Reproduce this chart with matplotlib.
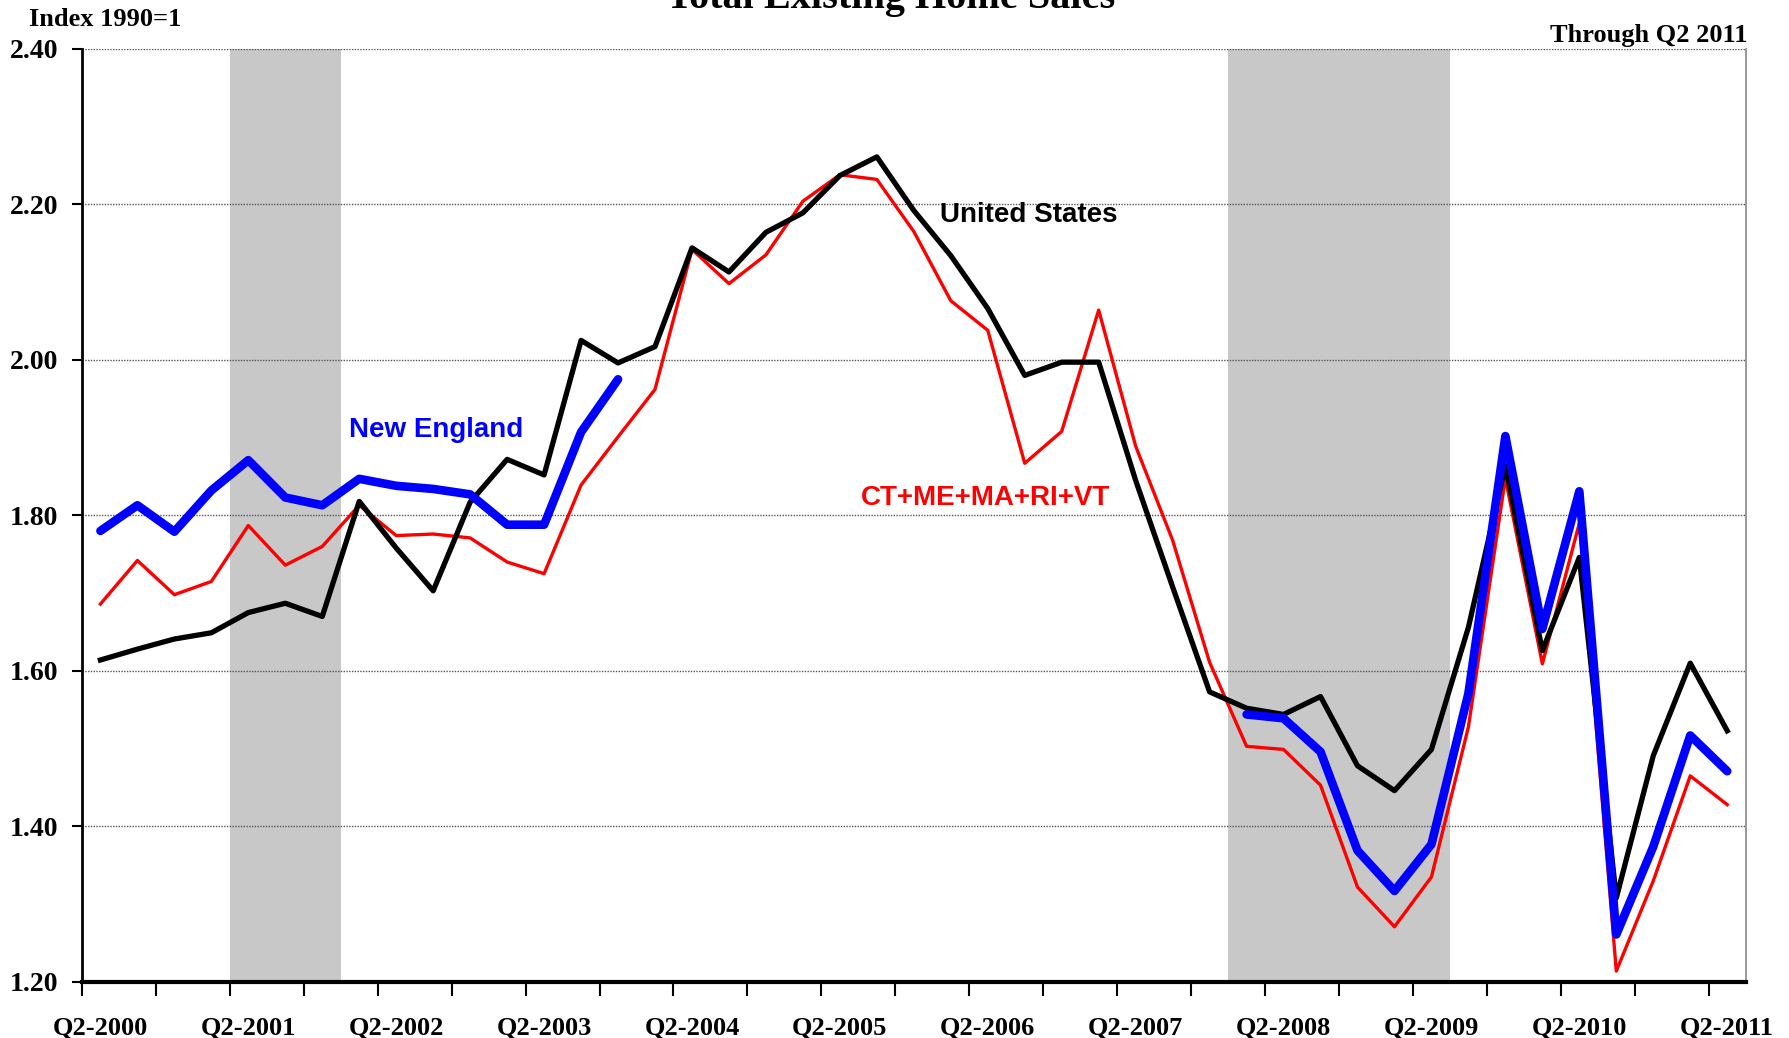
import numpy as np
import matplotlib
matplotlib.use("Agg")
import matplotlib.pyplot as plt

tick_labels = ["Q2-2000", "Q2-2001", "Q2-2002", "Q2-2003", "Q2-2004", "Q2-2005",
               "Q2-2006", "Q2-2007", "Q2-2008", "Q2-2009", "Q2-2010", "Q2-2011"]

us = [1.614, 1.628, 1.641, 1.649, 1.675, 1.687, 1.670, 1.818, 1.758, 1.703,
      1.817, 1.872, 1.852, 2.025, 1.996, 2.017, 2.144, 2.113, 2.164, 2.189,
      2.237, 2.261, 2.192, 2.134, 2.066, 1.980, 1.997, 1.997, 1.845, 1.708,
      1.573, 1.552, 1.544, 1.567, 1.478, 1.446, 1.499, 1.656, 1.864, 1.626,
      1.746, 1.308, 1.491, 1.610, 1.523]

ne5 = [1.686, 1.742, 1.698, 1.715, 1.787, 1.736, 1.760, 1.813, 1.774, 1.776,
       1.771, 1.740, 1.725, 1.839, 1.901, 1.962, 2.142, 2.098, 2.135, 2.204,
       2.238, 2.232, 2.165, 2.076, 2.038, 1.867, 1.908, 2.064, 1.889, 1.768,
       1.611, 1.503, 1.499, 1.453, 1.322, 1.271, 1.335, 1.528, 1.848, 1.609,
       1.790, 1.214, 1.330, 1.465, 1.428]

new_england = ([1.780, 1.813, 1.779, 1.832, 1.871, 1.823, 1.813, 1.847, 1.838, 1.834,
                1.827, 1.788, 1.788, 1.907, 1.975]
               + [np.nan] * 16
               + [1.544, 1.539, 1.496, 1.369, 1.317, 1.377, 1.571, 1.902, 1.654, 1.831,
                  1.261, 1.374, 1.517, 1.471])

recessions = [(4, 7), (31, 37)]  # quarter index spans

serif = "Liberation Serif"
sans = "Liberation Sans"

fig = plt.figure(figsize=(17.89, 10.38), dpi=100)
ax = fig.add_axes([0.0458, 0.054, 0.930, 0.899])

n = len(us)
x = np.arange(n) + 0.5

for a, b in recessions:
    ax.axvspan(a, b, color="#c8c8c8", lw=0, zorder=0)

for yv in [1.40, 1.60, 1.80, 2.00, 2.20, 2.40]:
    ax.axhline(yv, color="#555555", lw=1.0, ls=(0, (1, 1)), zorder=1)

ax.plot(x, ne5, color="#ff0000", lw=2.4, zorder=3)
ax.plot(x, us, color="black", lw=3.8, zorder=4)
ax.plot(x, new_england, color="#0000ff", lw=6.2, solid_capstyle="round",
        solid_joinstyle="round", zorder=5)

ax.set_xlim(0, n)
ax.set_ylim(1.20, 2.40)

ax.set_yticks([1.20, 1.40, 1.60, 1.80, 2.00, 2.20, 2.40])
ax.set_yticklabels([f"{v:.2f}" for v in [1.20, 1.40, 1.60, 1.80, 2.00, 2.20, 2.40]],
                   fontfamily=serif, fontweight="bold", fontsize=20)
ax.tick_params(axis="y", direction="out", length=7, width=1.5, pad=10)

ax.set_xticks(np.arange(0, n, 2))
ax.set_xticklabels([])
ax.set_xticks(np.arange(0, n, 4) + 0.5, minor=True)
ax.set_xticklabels(tick_labels, minor=True, fontfamily=serif, fontweight="bold", fontsize=19)
ax.tick_params(axis="x", which="major", direction="out", length=10, width=1.5)
ax.tick_params(axis="x", which="minor", length=0, pad=25)

ax.spines["top"].set_visible(False)
ax.spines["right"].set_color("#888888")
ax.spines["right"].set_linewidth(1.2)
ax.spines["left"].set_linewidth(2)
ax.spines["bottom"].set_linewidth(3)

fig.text(0.498, 1 - 8 / 1038, "Total Existing Home Sales", ha="center", va="baseline",
         fontfamily=serif, fontweight="bold", fontsize=29)
fig.text(29 / 1789, 1 - 26 / 1038, "Index 1990=1", ha="left", va="baseline",
         fontfamily=serif, fontweight="bold", fontsize=19)
fig.text(1747 / 1789, 1 - 42 / 1038, "Through Q2 2011", ha="right", va="baseline",
         fontfamily=serif, fontweight="bold", fontsize=19)

ax.text(1029 / 1789, 1 - 215 / 1038, "United States", transform=fig.transFigure,
        ha="center", va="center", fontfamily=sans, fontweight="bold", fontsize=20, color="black")
ax.text(436 / 1789, 1 - 430 / 1038, "New England", transform=fig.transFigure,
        ha="center", va="center", fontfamily=sans, fontweight="bold", fontsize=20, color="#0000ff")
ax.text(986 / 1789, 1 - 498 / 1038, "CT+ME+MA+RI+VT", transform=fig.transFigure,
        ha="center", va="center", fontfamily=sans, fontweight="bold", fontsize=20, color="#ff0000")

fig.savefig("out.png", dpi=100)
